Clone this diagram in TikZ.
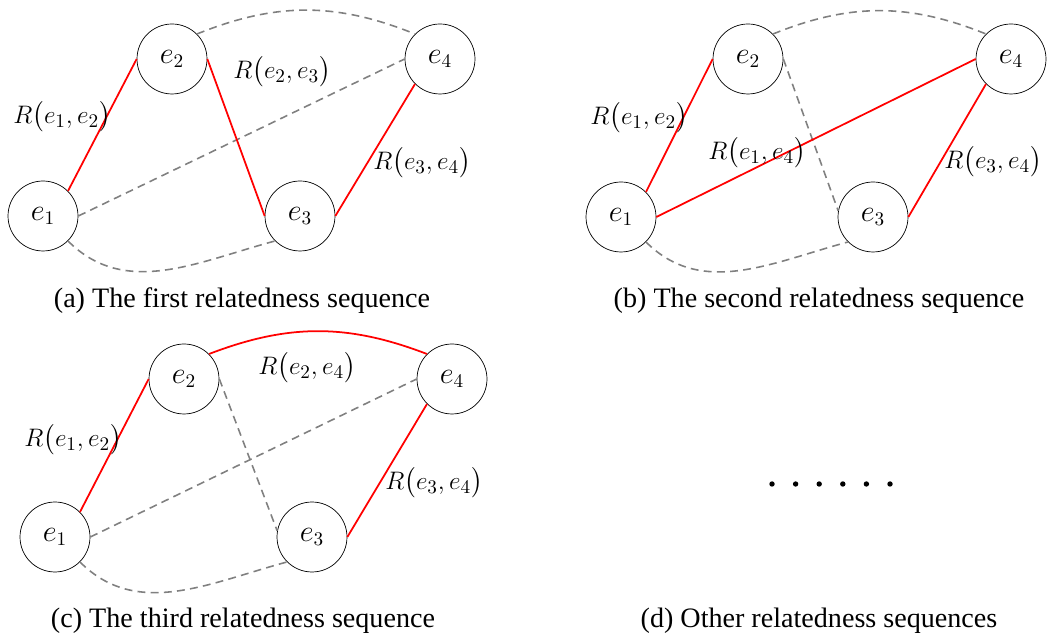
\documentclass[tikz,border=0pt]{standalone}
\usepackage{fontspec}
\setmainfont{Liberation Serif}
\usepackage{amsmath}
\usepackage{tikz}

\begin{document}
\begin{tikzpicture}[x=0.02cm, y=0.02cm,
    ent/.style={circle, draw, line width=0.4pt, minimum size=1.4cm, inner sep=0pt, font=\fontsize{16}{16}\selectfont},
    rel/.style={red, line width=1pt},
    link/.style={gray, line width=0.9pt, dash pattern=on 4.5pt off 3pt},
    lbl/.style={font=\fontsize{15}{15}\selectfont},
    subcap/.style={anchor=base, font=\fontsize{16}{19}\selectfont}]
    \useasboundingbox (0,0) rectangle (1051,638);
    % (a) first sequence
    \node[ent] (a1) at (43,422) {$e_1$};
    \node[ent] (a2) at (172,579) {$e_2$};
    \node[ent] (a3) at (300,422) {$e_3$};
    \node[ent] (a4) at (440,579) {$e_4$};
    \draw[link] (a1.east) -- (a4.west);
    \draw[link] (a2.45) to[bend left=22] (a4.135);
    \draw[link] (a1.-45) to[out=-45, in=195] (a3.-135);
    \draw[rel] (a1.45) -- (a2.west);
    \draw[rel] (a2.east) -- (a3.west);
    \draw[rel] (a3.east) -- (a4.225);
    \node[lbl] (a12) at (62,521) {$R\bigl(e_1,e_2\bigr)$};
    \node[lbl] (a23) at (282,566) {$R\bigl(e_2,e_3\bigr)$};
    \node[lbl] (a34) at (422,475) {$R\bigl(e_3,e_4\bigr)$};
    \node[subcap] (acap) at (242,330) {(a) The first relatedness sequence};
    % (b) second sequence
    \node[ent] (b1) at (621,421) {$e_1$};
    \node[ent] (b2) at (748,579) {$e_2$};
    \node[ent] (b3) at (873,421) {$e_3$};
    \node[ent] (b4) at (1011,579) {$e_4$};
    \draw[link] (b2.east) -- (b3.170);
    \draw[link] (b2.45) to[bend left=22] (b4.135);
    \draw[link] (b1.-45) to[out=-45, in=195] (b3.-135);
    \draw[rel] (b1.45) -- (b2.west);
    \draw[rel] (b1.east) -- (b4.west);
    \draw[rel] (b3.east) -- (b4.225);
    \node[lbl] (b12) at (639,520) {$R\bigl(e_1,e_2\bigr)$};
    \node[lbl] (b14) at (757,485) {$R\bigl(e_1,e_4\bigr)$};
    \node[lbl] (b34) at (993,476) {$R\bigl(e_3,e_4\bigr)$};
    \node[subcap] (bcap) at (819,330) {(b) The second relatedness sequence};
    % (c) third sequence
    \node[ent] (c1) at (55,101) {$e_1$};
    \node[ent] (c2) at (184,259) {$e_2$};
    \node[ent] (c3) at (312,101) {$e_3$};
    \node[ent] (c4) at (452,259) {$e_4$};
    \draw[link] (c1.east) -- (c4.west);
    \draw[link] (c2.east) -- (c3.170);
    \draw[link] (c1.-45) to[out=-45, in=195] (c3.-135);
    \draw[rel] (c1.45) -- (c2.west);
    \draw[rel] (c2.45) to[bend left=21] (c4.135);
    \draw[rel] (c3.east) -- (c4.225);
    \node[lbl] (c12) at (73,198) {$R\bigl(e_1,e_2\bigr)$};
    \node[lbl] (c24) at (307,270) {$R\bigl(e_2,e_4\bigr)$};
    \node[lbl] (c34) at (434,155) {$R\bigl(e_3,e_4\bigr)$};
    \node[subcap] (ccap) at (243,10) {(c) The third relatedness sequence};
    % (d) other sequences
    \foreach \k in {0,...,5}
        \fill (772+23.6*\k,154) circle (2.7);
    \node[subcap] (dcap) at (819,10) {(d) Other relatedness sequences};
\end{tikzpicture}
\end{document}
